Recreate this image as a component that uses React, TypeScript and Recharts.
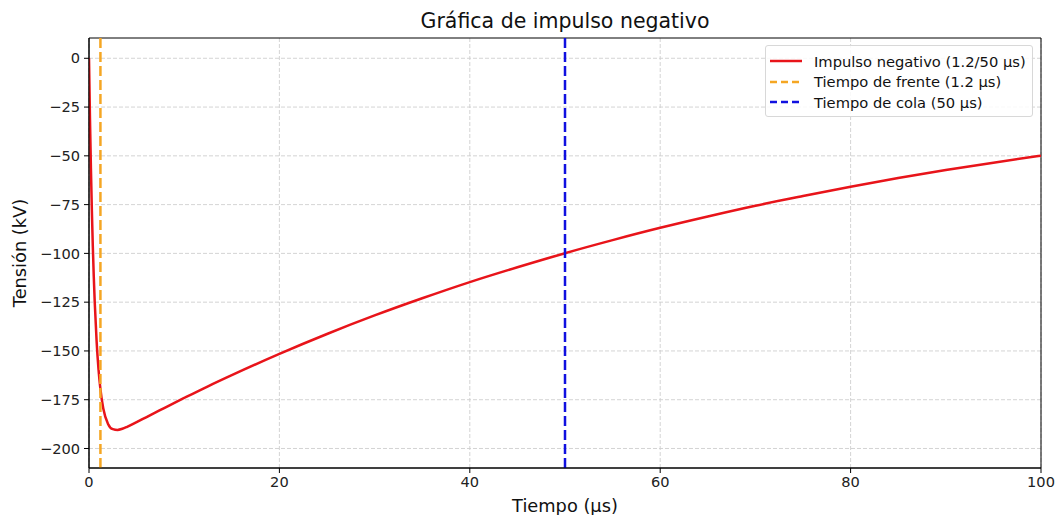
import React from 'react';
import {
  LineChart,
  Line,
  XAxis,
  YAxis,
  CartesianGrid,
  ReferenceLine,
  ReferenceArea,
} from 'recharts';

// Time (µs) and voltage (kV)
const times = [
  0, 0.1, 0.2, 0.3, 0.4, 0.5, 0.6, 0.8, 1.0, 1.2, 1.5, 2.0, 2.5, 3.0, 3.5, 4.0,
  5, 6, 7, 8, 10, 12.5, 15, 20, 25, 30, 35, 40, 45, 50, 55, 60, 65, 70, 75, 80, 85,
  90, 95, 100,
];
const tension = [
  0, -30.4, -56.1, -77.9, -96.2, -111.7, -124.8, -145.1, -159.5, -169.6, -179.5,
  -187.4, -190.1, -190.5, -189.9, -188.9, -186.5, -184.0, -181.5, -179.0, -174.1,
  -168.1, -162.4, -151.5, -141.3, -131.8, -123.0, -114.7, -107.1, -99.9, -93.2,
  -86.9, -81.1, -75.6, -70.6, -65.8, -61.4, -57.3, -53.5, -49.9,
];

const xTicks = [0, 20, 40, 60, 80, 100];
const yTicks = [0, -25, -50, -75, -100, -125, -150, -175, -200];
const xDomain = [0, 100];
const yDomain = [-210, 10.4];

const frontTime = 1.2;
const tailTime = 50;

const titleText = 'Gráfica de impulso negativo';
const xLabelText = 'Tiempo (µs)';
const yLabelText = 'Tensión (kV)';

const legendLabels = [
  'Impulso negativo (1.2/50 µs)',
  'Tiempo de frente (1.2 µs)',
  'Tiempo de cola (50 µs)',
];
const legendColors = ['#e8141a', '#f5a623', '#1010e0'];
const legendDashes = ['', '7 4', '7 4'];

const data = times.map((t, i) => ({ t, v: tension[i] }));

const FONT = '"DejaVu Sans", sans-serif';
const W = 1057;
const H = 515;

const fmt = (v: number) => (v < 0 ? '\u2212' + Math.abs(v) : String(v));

export default function App() {
  return (
    <div style={{ position: 'absolute', left: 0, top: 0, width: W, height: H, background: '#fff', fontFamily: FONT }}>
      <div
        style={{
          position: 'absolute',
          left: 89,
          width: 952,
          top: 9,
          textAlign: 'center',
          fontSize: 20.5,
          color: '#111',
          lineHeight: '25px',
        }}
      >
        {titleText}
      </div>
      <LineChart
        width={W}
        height={H}
        data={data}
        margin={{ top: 38, right: 16, bottom: 0, left: 0 }}
      >
        <CartesianGrid
          stroke="#cfcfcf"
          strokeDasharray="4 2"
          strokeWidth={0.9}
          horizontalValues={yTicks}
          verticalValues={xTicks}
        />
        <XAxis
          dataKey="t"
          type="number"
          domain={xDomain}
          ticks={xTicks}
          allowDataOverflow
          height={47}
          tickSize={5}
          tickMargin={4}
          stroke="#000"
          tick={{ fill: '#222', fontSize: 14.6, fontFamily: FONT }}
          tickFormatter={fmt}
          label={(props: any) => {
            const vb = props.viewBox || { x: 89, width: 952, y: 468 };
            return (
              <text
                x={vb.x + vb.width / 2}
                y={505}
                textAnchor="middle"
                dominantBaseline="central"
                fontSize={17.8}
                fontFamily={FONT}
                fill="#111"
              >
                {xLabelText}
              </text>
            );
          }}
        />
        <YAxis
          type="number"
          domain={yDomain}
          ticks={yTicks}
          allowDataOverflow
          width={89}
          tickSize={5}
          tickMargin={4}
          stroke="#000"
          tick={{ fill: '#222', fontSize: 14.6, fontFamily: FONT }}
          tickFormatter={fmt}
          label={(props: any) => {
            const vb = props.viewBox || { y: 38, height: 430 };
            const cy = vb.y + vb.height / 2;
            return (
              <text
                x={19}
                y={cy}
                textAnchor="middle"
                dominantBaseline="central"
                transform={`rotate(-90 19 ${cy})`}
                fontSize={17.8}
                fontFamily={FONT}
                fill="#111"
              >
                {yLabelText}
              </text>
            );
          }}
        />
        <ReferenceArea
          x1={xDomain[0]}
          x2={xDomain[1]}
          y1={yDomain[0]}
          y2={yDomain[1]}
          fill="none"
          stroke="#000"
          strokeWidth={1}
          fillOpacity={0}
          strokeOpacity={1}
        />
        <Line
          type="monotone"
          dataKey="v"
          stroke={legendColors[0]}
          strokeWidth={2.5}
          dot={false}
          isAnimationActive={false}
        />
        <ReferenceLine
          x={frontTime}
          stroke={legendColors[1]}
          strokeWidth={2.5}
          strokeDasharray="10 4"
        />
        <ReferenceLine
          x={tailTime}
          stroke={legendColors[2]}
          strokeWidth={2.5}
          strokeDasharray="10 4"
        />
      </LineChart>
      <div
        style={{
          position: 'absolute',
          left: 765,
          top: 45,
          width: 268,
          height: 72,
          boxSizing: 'border-box',
          border: '1px solid #d8d8d8',
          borderRadius: 3,
          background: 'rgba(255,255,255,0.85)',
          paddingTop: 5,
          fontSize: 14.7,
          color: '#111',
        }}
      >
        {legendLabels.map((lab, i) => (
          <div key={i} style={{ display: 'flex', alignItems: 'center', height: 20.5 }}>
            <svg width={47} height={10} style={{ marginLeft: 1, flex: 'none' }}>
              <line
                x1={3}
                x2={35}
                y1={5}
                y2={5}
                stroke={legendColors[i]}
                strokeWidth={2.5}
                strokeDasharray={legendDashes[i] || undefined}
              />
            </svg>
            <span style={{ whiteSpace: 'nowrap' }}>{lab}</span>
          </div>
        ))}
      </div>
    </div>
  );
}
